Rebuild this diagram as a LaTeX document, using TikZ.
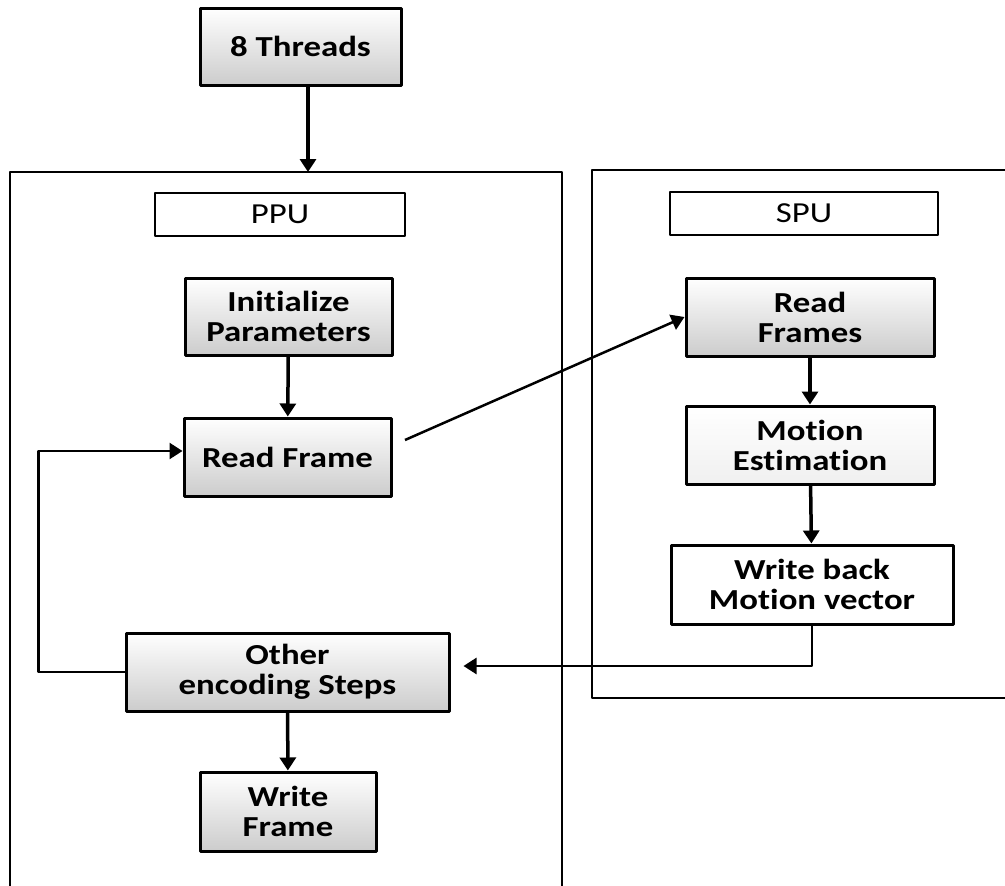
\documentclass[tikz,border=0pt]{standalone}
\usepackage{fontspec}
\setmainfont{Carlito}[FakeStretch=1.2,Ligatures=NoCommon]
\usetikzlibrary{arrows.meta}

\begin{document}
\begin{tikzpicture}[x=1pt,y=-1pt,>={Triangle[width=16pt,length=13pt]},line join=round,
	box/.style={draw,line width=3pt,align=center,inner sep=0pt,
		font=\fontsize{29}{30}\selectfont\bfseries},
	greybox/.style={box,top color=white,bottom color=gray!40},
	unitbox/.style={box,line width=2.5pt,font=\fontsize{29}{30}\selectfont},
	flow/.style={->,line width=3.5pt},
	thinflow/.style={->,line width=2.5pt}]
	\def\W{1005} \def\H{886}
	\useasboundingbox (0,0) rectangle (\W,\H);
	% PPU / SPU
	\draw[line width=2.5pt] (10,\H+5) -- (10,172) -- (562,172) -- (562,\H+5);
	\draw[line width=2.5pt] (\W+5,170) -- (592,170) -- (592,698) -- (\W+5,698);
	\coordinate (pputop) at (308,172);
	\node[greybox,minimum width=201pt,minimum height=77pt] (threads) at (300.5,46.5) {8 Threads};
	\node[unitbox,minimum width=250pt,minimum height=43pt] (ppu) at (280,214.5) {PPU};
	\node[unitbox,minimum width=268pt,minimum height=43pt] (spu) at (804,213.5) {SPU};
	\node[greybox,minimum width=207pt,minimum height=77pt] (init) at (288.5,316.5) {Initialize\\Parameters};
	\node[greybox,minimum width=207pt,minimum height=78pt] (readf) at (287.5,457) {Read Frame};
	\node[greybox,minimum width=323pt,minimum height=78pt] (other) at (287.5,672) {Other\\encoding Steps};
	\node[greybox,minimum width=176pt,minimum height=79pt] (writef) at (288,811.5) {Write\\Frame};
	\node[greybox,minimum width=248pt,minimum height=78pt] (readfs) at (810,317) {Read\\Frames};
	\node[box,top color=white,bottom color=gray!12,minimum width=248pt,minimum height=78pt] (motion) at (810,445) {Motion\\Estimation};
	\node[box,minimum width=282pt,minimum height=79pt] (wback) at (812,584.5) {Write back\\Motion vector};
	\coordinate (send) at (405,440);
	% arrows
	\draw[flow] (threads.south -| pputop) -- (pputop);
	\draw[flow] (init) -- (readf);
	\draw[flow] (other) -- (writef);
	\draw[flow] (readfs) -- (motion);
	\draw[flow] (motion) -- (wback);
	\draw[thinflow] (send) -- (readfs.west);
	\draw[thinflow] (other.west) -- ++(-86,0) |- ([yshift=6pt]readf.west);
	\draw[thinflow,shorten >=13pt] (wback.south) |- ([yshift=6pt]other.east);
\end{tikzpicture}
\end{document}
